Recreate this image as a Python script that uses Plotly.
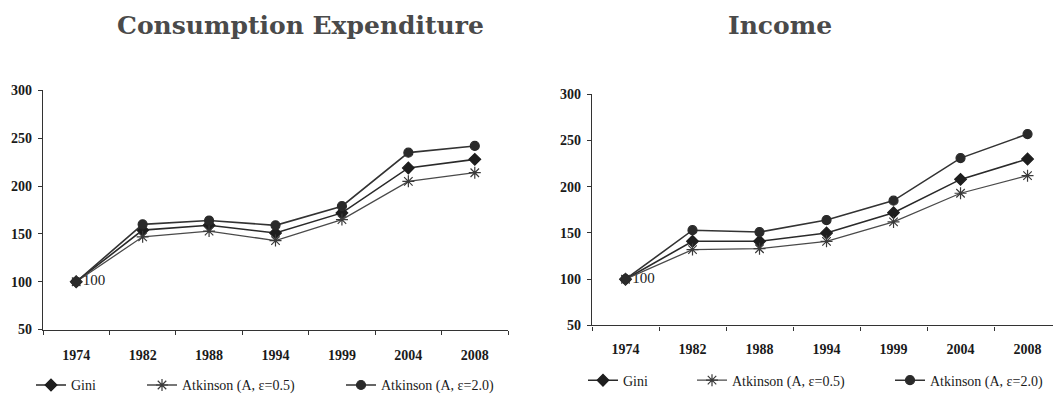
import plotly.graph_objects as go

years = ["1974", "1982", "1988", "1994", "1999", "2004", "2008"]
y_ticks = [50, 100, 150, 200, 250, 300]

# Consumption expenditure indices (1974 = 100)
cons_gini = [100, 154, 159, 151, 172, 219, 228]
cons_atk05 = [100, 147, 153, 143, 165, 205, 214]
cons_atk20 = [100, 160, 164, 159, 179, 235, 242]

# Income indices (1974 = 100)
inc_gini = [100, 141, 141, 150, 172, 208, 230]
inc_atk05 = [100, 132, 133, 141, 162, 193, 212]
inc_atk20 = [100, 153, 151, 164, 185, 231, 257]

titles = ["Consumption Expenditure", "Income"]
series_names = ["Gini", "Atkinson (A, ε=0.5)", "Atkinson (A, ε=2.0)"]

W, H = 1053, 404
serif = "Liberation Serif"

fig = go.Figure()

styles = [
    dict(symbol="diamond", size=9, color="#1e1e1e", lw=1.6, lc="#2a2a2a"),
    dict(symbol="asterisk-open", size=10, color="#3a3a3a", lw=1.3, lc="#4a4a4a"),
    dict(symbol="circle", size=9, color="#2a2a2a", lw=1.6, lc="#333333"),
]

panels = [
    ("x", "y", [cons_gini, cons_atk05, cons_atk20], ["legend", "legend2", "legend3"]),
    ("x2", "y2", [inc_gini, inc_atk05, inc_atk20], ["legend4", "legend5", "legend6"]),
]

for xa, ya, data, legs in panels:
    for i, (name, vals, st, lg) in enumerate(zip(series_names, data, styles, legs)):
        is_first = i == 0
        fig.add_trace(go.Scatter(
            x=years, y=vals, name=name, xaxis=xa, yaxis=ya, legend=lg,
            mode="lines+markers+text" if is_first else "lines+markers",
            text=["100"] + [""] * (len(years) - 1) if is_first else None,
            textposition="middle right",
            textfont=dict(family=serif, size=15, color="#222"),
            line=dict(color=st["lc"], width=st["lw"]),
            marker=dict(symbol=st["symbol"], size=st["size"], color=st["color"],
                        line=dict(color=st["color"], width=1.2)),
        ))

axis_common = dict(
    showgrid=False, zeroline=False, showline=True, linecolor="#333", linewidth=1.3,
    ticks="outside", ticklen=4, tickcolor="#333", tickwidth=1.2,
    tickfont=dict(family=serif, size=14, color="#1a1a1a", weight="bold"),
)

fig.update_layout(
    xaxis=dict(domain=[43 / W, 508 / W], range=[-0.5, 6.5], type="category",
               tickson="boundaries", anchor="y", ticklabelstandoff=12, **axis_common),
    yaxis=dict(domain=[1 - 335 / H, 1 - 86.7 / H], range=[50, 300], tickvals=y_ticks,
               anchor="x", ticklabelstandoff=3, **axis_common),
    xaxis2=dict(domain=[592 / W, 1.0], range=[-0.5, 6.38], type="category",
                tickson="boundaries", anchor="y2", ticklabelstandoff=11, **axis_common),
    yaxis2=dict(domain=[1 - 330.7 / H, 1 - 90.7 / H], range=[50, 300], tickvals=y_ticks,
                anchor="x2", ticklabelstandoff=3, **axis_common),
)

# one legend box per entry so each sits in its own slot
leg_font = dict(family=serif, size=14, color="#1a1a1a")
leg_pos = {
    "legend": (31, 393), "legend2": (142, 393), "legend3": (341, 393),
    "legend4": (583, 388), "legend5": (692, 388), "legend6": (890, 388),
}
for key, (px, py) in leg_pos.items():
    fig.update_layout({key: dict(x=px / W, y=1 - py / H, xanchor="left", yanchor="middle",
                                 orientation="h", font=leg_font, bgcolor="rgba(0,0,0,0)",
                                 borderwidth=0, itemwidth=30)})

# panel titles
for txt, cx in zip(titles, [300, 780]):
    fig.add_annotation(text=f"<b>{txt}</b>", x=cx / W, y=1 - 19 / H, xref="paper", yref="paper",
                       xanchor="center", yanchor="middle", showarrow=False,
                       font=dict(family="DejaVu Serif", size=25, color="#4a4a4a"))

fig.update_layout(
    width=W, height=H, margin=dict(l=0, r=0, t=0, b=0),
    paper_bgcolor="white", plot_bgcolor="white", showlegend=True,
)

fig.write_html("out.html")
